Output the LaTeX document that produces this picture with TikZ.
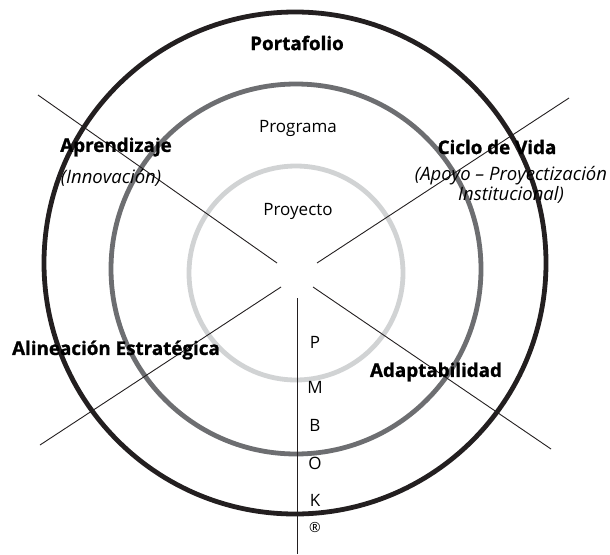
\documentclass[tikz,border=0pt]{standalone}
\usepackage{fontspec}
\setmainfont{Open Sans}[BoldFeatures={FakeBold=1.2}]
\definecolor{ringdark}{HTML}{231F20}
\definecolor{ringmid}{HTML}{6D6E71}
\definecolor{ringlight}{HTML}{D1D3D4}
\tikzset{
  ring/.style={line width=4.8pt},
  spoke/.style={draw=ringdark, line width=0.9pt},
  heavy/.style={font=\bfseries\fontsize{18.8}{20}\selectfont},
  plain/.style={font=\fontsize{17}{19}\selectfont},
  slant/.style={font=\itshape\fontsize{18.5}{20}\selectfont, align=center}
}
\begin{document}
\begin{tikzpicture}[x=1pt,y=-1pt]
      \useasboundingbox (0,0) rectangle (610,554);

      % three rings
      \draw[ring, ringdark]  (295,263) circle[radius=251pt];
      \draw[ring, ringmid]   (296,269) circle[radius=185pt];
      \draw[ring, ringlight] (296,273) circle[radius=107pt];

      \begin{scope}
        \coordinate (ul1) at (38,95);
        \coordinate (ul2) at (277,263);
        \coordinate (ur1) at (569,98);
        \coordinate (ur2) at (317,263);
        \coordinate (ll1) at (40,445);
        \coordinate (ll2) at (281,287);
        \coordinate (lr1) at (551,449);
        \coordinate (lr2) at (313,287);
        \coordinate (v1)  at (297,298);
        \coordinate (v2)  at (297,554);
      \end{scope}

      \path[spoke] (ul1) -- (ul2);
      \path[spoke] (ur1) -- (ur2);
      \path[spoke] (ll1) -- (ll2);
      \path[spoke] (lr1) -- (lr2);
      \path[spoke, line width=1pt] (v1) -- (v2);

      \begin{scope}[every node/.style={inner sep=0pt}]
        \node[heavy] (port)  at (297,43)  {Portafolio};
        \node[plain] (prog)  at (298,128) {Programa};
        \node[plain] (proy)  at (298,211) {Proyecto};
        \node[heavy] (apre)  at (116,147) {Aprendizaje};
        \node[slant] (inno)  at (111,178) {(Innovación)};
        \node[heavy] (ciclo) at (497,147) {Ciclo de Vida};
        \node[slant] (apoyo) at (511,185) {(Apoyo – Proyectización\\Institucional)};
        \node[heavy] (alin)  at (116,350) {Alineación Estratégica};
        \node[heavy] (adap)  at (436,372) {Adaptabilidad};
      \end{scope}

      \foreach \l/\y [count=\i] in {P/342, M/387, B/425, O/463, K/500}
        \node[plain, inner sep=0pt] (pm\i) at (315,\y) {\l};
      \node[inner sep=0pt, font=\fontsize{14}{15}\selectfont] (pm6) at (315,527) {\textregistered};

\end{tikzpicture}
\end{document}
